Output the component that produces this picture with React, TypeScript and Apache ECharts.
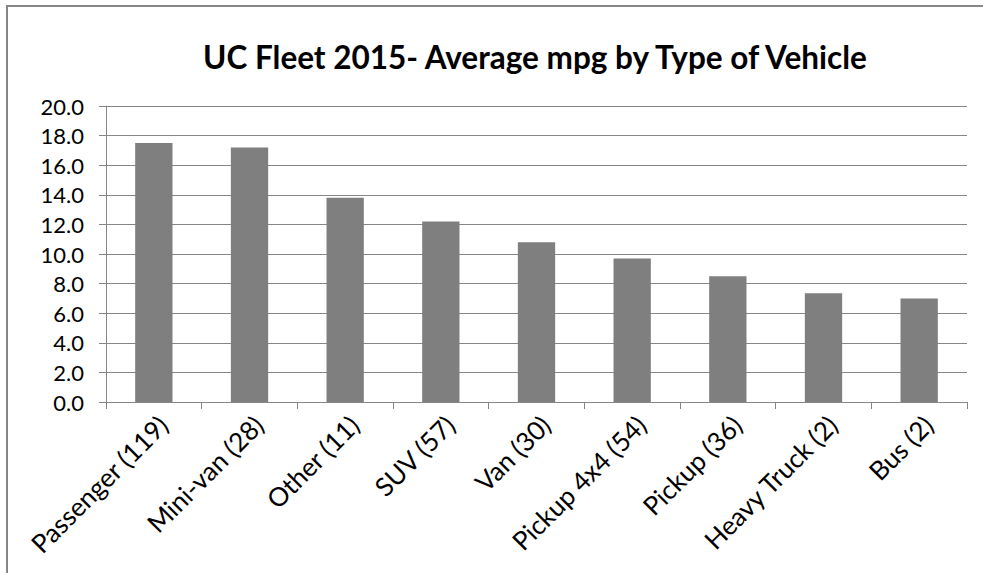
import React, { useEffect, useRef } from "react";
import * as echarts from "echarts";

const categories = [
  "Passenger (119)",
  "Mini-van (28)",
  "Other (11)",
  "SUV (57)",
  "Van (30)",
  "Pickup 4x4 (54)",
  "Pickup (36)",
  "Heavy Truck (2)",
  "Bus (2)",
];
const mpgValues = [17.5, 17.2, 13.8, 12.2, 10.8, 9.7, 8.5, 7.35, 7.0];
const titleText = "UC Fleet 2015- Average mpg by Type of Vehicle";

const FONT = "Lato";

export default function App() {
  const ref = useRef<HTMLDivElement>(null);
  useEffect(() => {
    if (!ref.current) return;
    const chart = echarts.init(ref.current, undefined, { renderer: "svg" });
    chart.setOption({
      animation: false,
      backgroundColor: "#ffffff",
      title: {
        text: titleText,
        left: 530,
        top: 36,
        textAlign: "center",
        textStyle: {
          fontFamily: FONT,
          fontWeight: "bold",
          fontSize: 31.5,
          color: "#000000",
        },
      },
      graphic: [
        {
          type: "polyline",
          z: 101,
          shape: {
            points: [
              [7, 573],
              [7, 6],
              [983, 6],
            ],
          },
          style: { fill: "none", stroke: "#868686", lineWidth: 2 },
          silent: true,
        },
      ],
      grid: { left: 106, right: 16, top: 106, bottom: 171, containLabel: false },
      xAxis: {
        type: "category",
        data: categories,
        boundaryGap: true,
        axisLine: { show: true, lineStyle: { color: "#868686", width: 1 } },
        axisTick: { show: true, length: 7, lineStyle: { color: "#868686" } },
        axisLabel: {
          rotate: 45,
          interval: 0,
          margin: 9,
          verticalAlign: "top",
          fontFamily: FONT,
          fontSize: 26,
          color: "#000000",
        },
        splitLine: { show: false },
      },
      yAxis: {
        type: "value",
        min: 0,
        max: 20,
        interval: 2,
        axisLine: { show: true, lineStyle: { color: "#868686", width: 1 } },
        axisTick: { show: true, length: 7, lineStyle: { color: "#868686" } },
        axisLabel: {
          margin: 22,
          fontFamily: FONT,
          fontSize: 22,
          color: "#000000",
          formatter: (v: number) => v.toFixed(1),
        },
        splitLine: { show: true, lineStyle: { color: "#868686", width: 1 } },
      },
      series: [
        {
          type: "bar",
          data: mpgValues,
          barWidth: "39%",
          itemStyle: { color: "#7f7f7f" },
        },
      ],
    });
    return () => chart.dispose();
  }, []);
  return (
    <div
      ref={ref}
      style={{ position: "fixed", left: 0, top: 0, width: 983, height: 573 }}
    />
  );
}
